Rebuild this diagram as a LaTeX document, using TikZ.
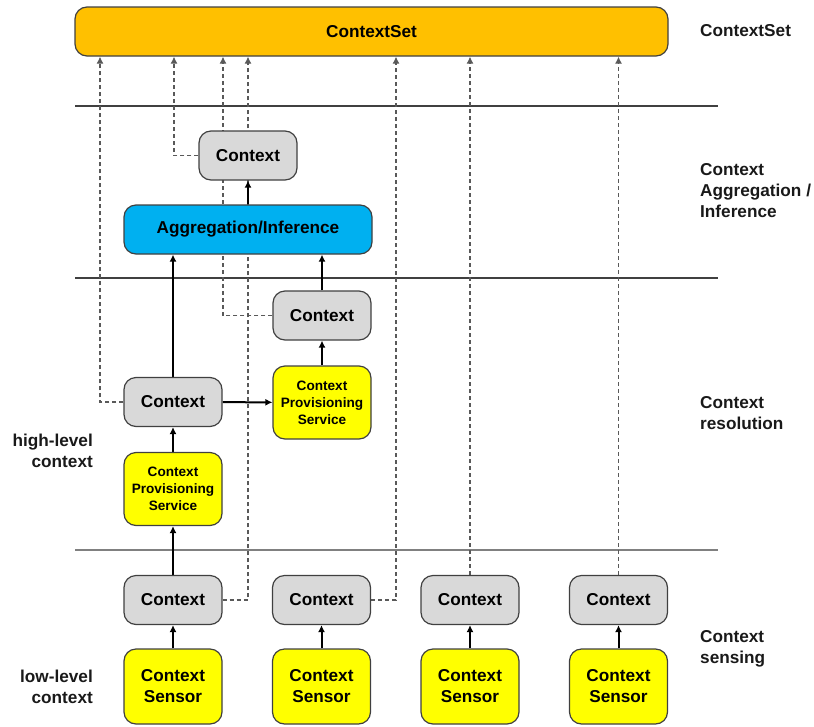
\documentclass[tikz,border=0pt]{standalone}
\usepackage{fontspec}
\setmainfont{Liberation Sans}
\usetikzlibrary{arrows.meta,backgrounds}
\definecolor{setorange}{HTML}{FFC000}
\definecolor{aggblue}{HTML}{00B0F0}
\definecolor{cpsyellow}{HTML}{FFFF00}
\definecolor{ctxgray}{HTML}{D9D9D9}
\definecolor{boxline}{HTML}{404040}

\begin{document}
\begin{tikzpicture}[x=1pt,y=1pt,>={Latex[length=7pt,width=7pt]},
		font=\fontsize{17.2}{21}\selectfont\bfseries,
		box/.style={draw=boxline,line width=1.2pt,rounded corners=12pt,inner sep=0pt,align=center},
		ctx/.style={box,fill=ctxgray,minimum width=98pt,minimum height=49pt},
		sensor/.style={box,fill=cpsyellow,minimum width=98pt,minimum height=75pt},
		cps/.style={box,fill=cpsyellow,minimum width=98pt,minimum height=73pt,
			font=\fontsize{13.6}{17}\selectfont\bfseries},
		layername/.style={inner sep=0pt,text=black!90},
		flow/.style={->,line width=2pt},
		feed/.style={->,draw=black!65,line width=1.2pt,dash pattern=on 4pt off 3pt},
		sep/.style={draw=black!75,line width=1.2pt},
		node distance=148.5pt]
		\useasboundingbox (0,0) rectangle (814,-726);
		
		\node[box, fill=setorange, minimum width=593pt, minimum height=49pt] (set) at (371.5,-31.5) {ContextSet};
		
		\node[ctx] 							(ctxagg) at (248,-155.5) 	{Context};
		\node[box, fill=aggblue, minimum width=248pt, minimum height=49pt] (agg) at (248,-229.5) {Aggregation/Inference};
		
		\node[ctx] 							(ctxres) at (322,-315.5) 	{Context};
		\node[cps] 							(cpsr) at (322,-402.5) 		{Context\\Provisioning\\Service};
		\node[ctx] 							(ctxl) at (173,-402) 		{Context};
		\node[cps, below of=ctxl, node distance=87pt] (cpsl) 			{Context\\Provisioning\\Service};
		
		\node[ctx] 							(c1) at (173,-600) 			{Context};
		\node[ctx, right of=c1] 			(c2) 						{Context};
		\node[ctx, right of=c2] 			(c3) 						{Context};
		\node[ctx, right of=c3] 			(c4) 						{Context};
		\node[sensor, below of=c1, node distance=86.5pt] (s1) 			{Context\\Sensor};
		\node[sensor, below of=c2, node distance=86.5pt] (s2) 			{Context\\Sensor};
		\node[sensor, below of=c3, node distance=86.5pt] (s3) 			{Context\\Sensor};
		\node[sensor, below of=c4, node distance=86.5pt] (s4) 			{Context\\Sensor};
		
		% layer names
		\node[layername, anchor=west, align=left] (nset) at (700,-31) 		{ContextSet};
		\node[layername, anchor=west, align=left] (nagg) at (700,-191) 	{Context\\Aggregation /\\Inference};
		\node[layername, anchor=west, align=left] (nres) at (700,-413.5) 	{Context\\resolution};
		\node[layername, anchor=west, align=left] (nsen) at (700,-648.5) 	{Context\\sensing};
		\node[layername, anchor=east, align=right] (nhigh) at (93,-450.5) 	{high-level\\context};
		\node[layername, anchor=east, align=right] (nlow) at (93,-686.5) 	{low-level\\context};
		
		\begin{scope}[on background layer]
			\draw[sep] (75,-106) -- (718,-106);
			\draw[sep] (75,-278) -- (718,-278);
			\draw[draw=black!50, line width=2pt] (75,-550) -- (718,-550);
			
			% tap points on the ContextSet bar
			\coordinate (fa) at (100,0);
			\coordinate (fb) at (174,0);
			\coordinate (fc) at (223,0);
			\coordinate (fd) at (248,0);
			\coordinate (fe) at (396,0);
			
			\draw[feed] (ctxl.west) -| (fa |- set.south);
			\draw[feed] (ctxagg.west) -| (fb |- set.south);
			\draw[feed] (ctxres.west) -| (fc |- set.south);
			\draw[feed] (c1.east) -| (fd |- set.south);
			\draw[feed] (c2.east) -| (fe |- set.south);
			\draw[feed] (c3.north) -- (c3.north |- set.south);
			\draw[feed] (c4.north) -- (c4.north |- set.south);
			
			\draw[flow] (s1) -- (c1);
			\draw[flow] (s2) -- (c2);
			\draw[flow] (s3) -- (c3);
			\draw[flow] (s4) -- (c4);
			\draw[flow] (c1) -- (cpsl);
			\draw[flow] (cpsl) -- (ctxl);
			\draw[flow] (ctxl.north) -- (ctxl.north |- agg.south);
			\draw[flow] (ctxl) -- (cpsr);
			\draw[flow] (cpsr) -- (ctxres);
			\draw[flow] (ctxres.north) -- (ctxres.north |- agg.south);
			\draw[flow] (agg) -- (ctxagg);
		\end{scope}
\end{tikzpicture}
\end{document}
